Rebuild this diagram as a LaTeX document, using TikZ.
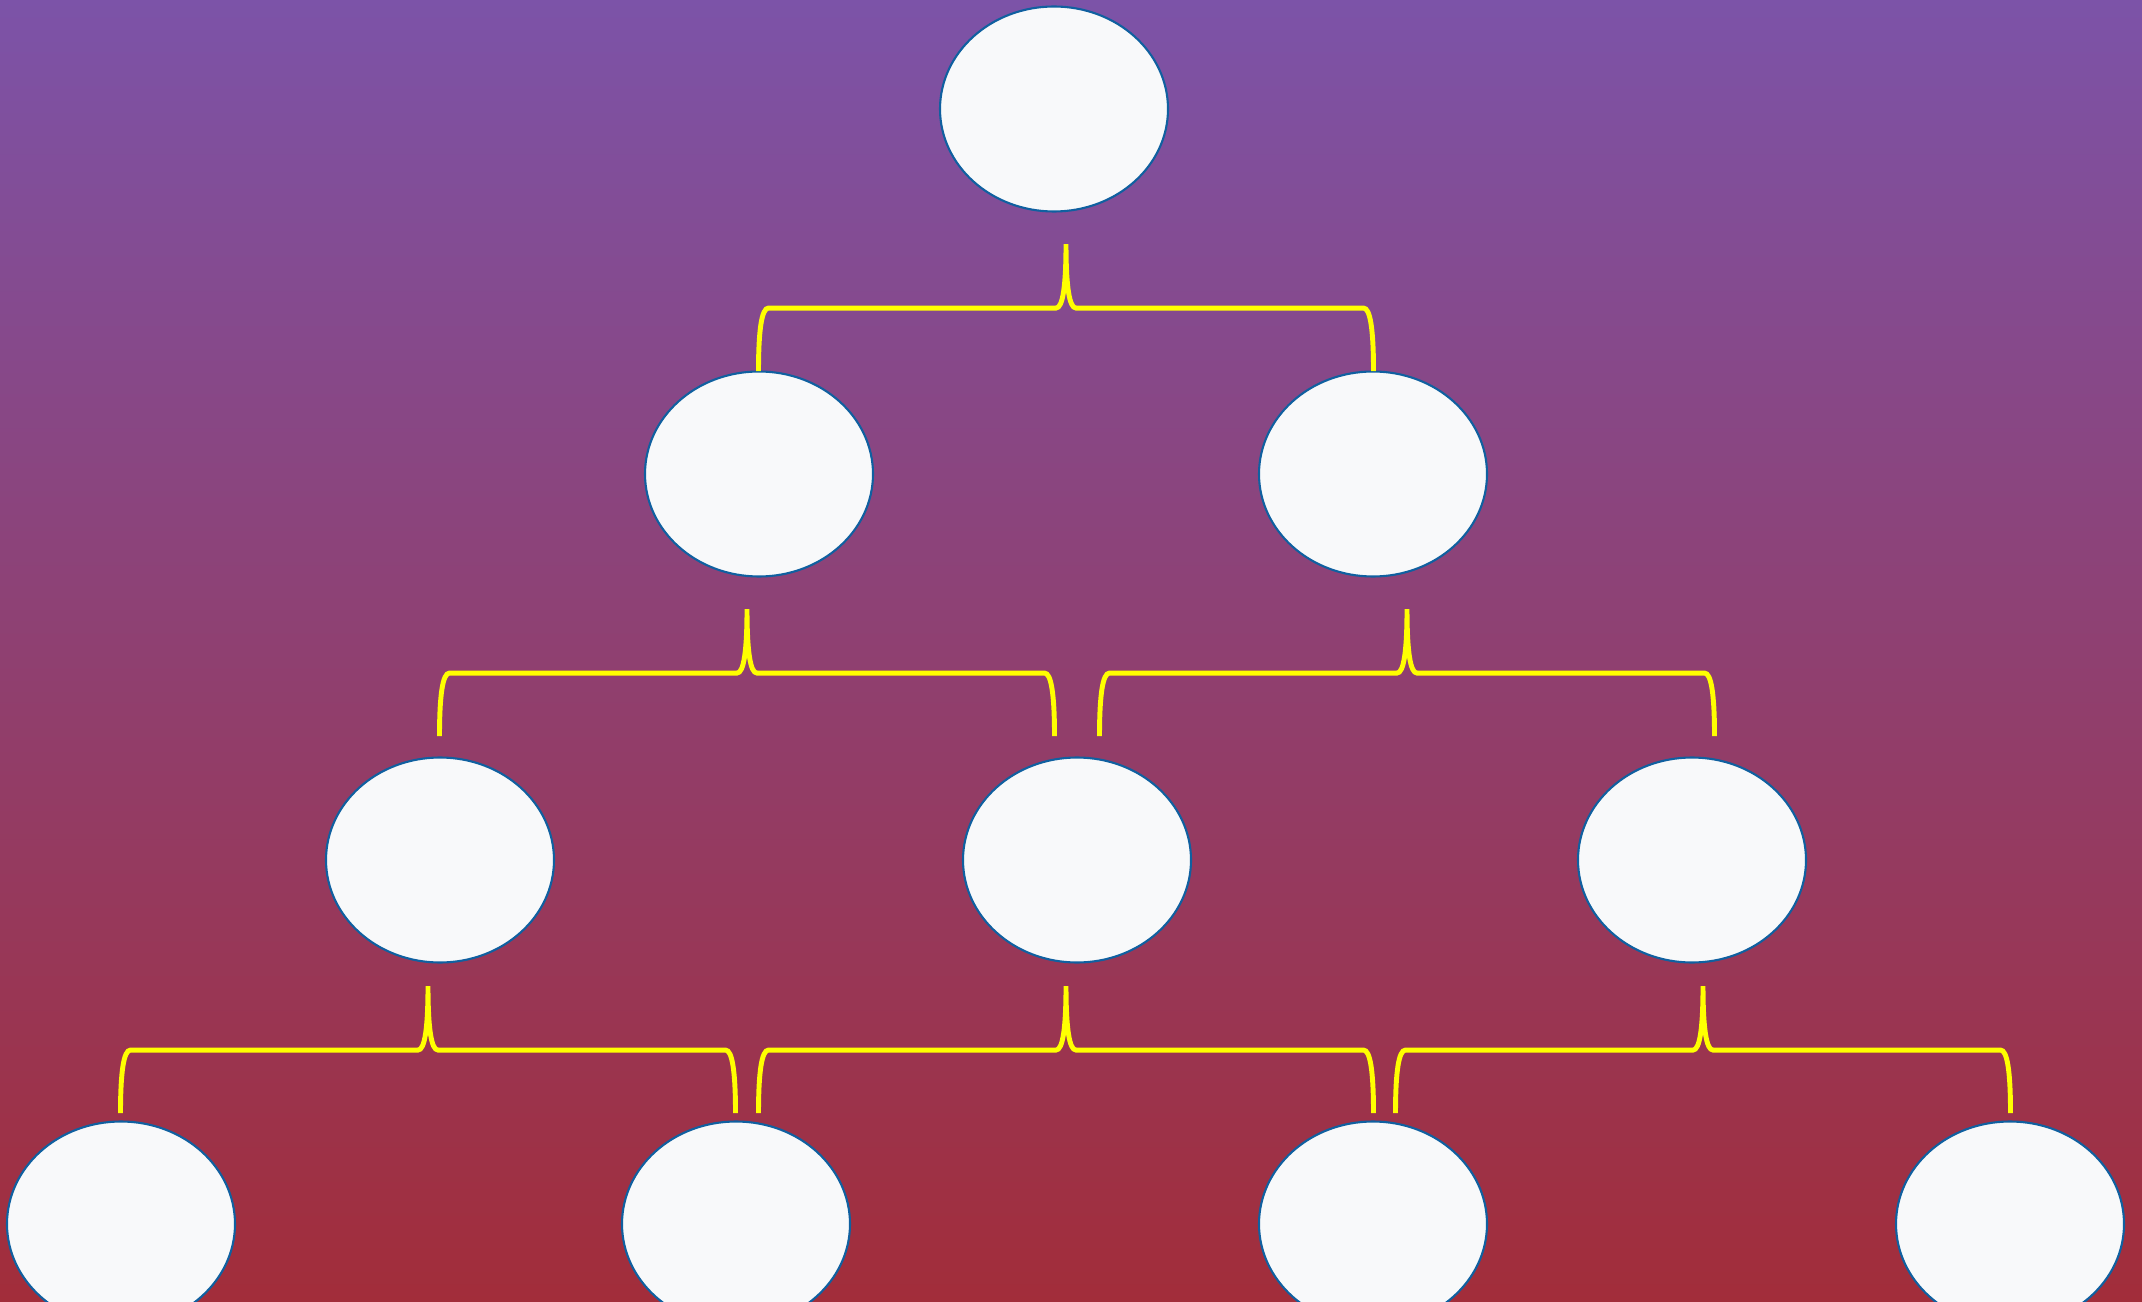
\documentclass[tikz,border=0pt]{standalone}
\usepackage{xcolor}
\usepackage{tikz}
\usetikzlibrary{shapes.geometric,calc}
\definecolor{bgtop}{HTML}{7C53A8}
\definecolor{bgbottom}{HTML}{A22D3A}
\definecolor{nodefill}{HTML}{F8F9FA}
\definecolor{nodeline}{HTML}{1060A0}
\definecolor{forkyellow}{HTML}{FFFF00}
\tikzset{
  treenode/.style={ellipse, draw=nodeline, fill=nodefill, line width=0.6pt,
    minimum width=2.28cm, minimum height=2.05cm, inner sep=0pt},
  forkline/.style={draw=forkyellow, line width=1.4pt},
}
% brace hanging from the tip coordinate #1
\newcommand{\forkbrace}[1]{%
  \draw[forkline] ($(#1)+(-3.075,-1.27)$)
    .. controls ($(#1)+(-3.075,-0.85)$) and ($(#1)+(-3.042,-0.64)$) .. ($(#1)+(-2.975,-0.64)$)
    -- ($(#1)+(-0.10,-0.64)$)
    .. controls ($(#1)+(-0.033,-0.64)$) and ($(#1)+(0,-0.427)$) .. (#1)
    .. controls ($(#1)+(0,-0.427)$) and ($(#1)+(0.033,-0.64)$) .. ($(#1)+(0.10,-0.64)$)
    -- ($(#1)+(2.975,-0.64)$)
    .. controls ($(#1)+(3.042,-0.64)$) and ($(#1)+(3.075,-0.85)$) .. ($(#1)+(3.075,-1.27)$);
}

\begin{document}
\begin{tikzpicture}[x=1cm,y=1cm]
\useasboundingbox (0,0) rectangle (21.42,13.01);
\clip (0,0) rectangle (21.42,13.01);
\shade[top color=bgtop, bottom color=bgbottom] (0,0) rectangle (21.42,13.01);
% nodes
\node[treenode] (n1)  at (10.54,11.92) {};
\node[treenode] (n2a) at (7.59,8.27)   {};
\node[treenode] (n2b) at (13.73,8.27)  {};
\node[treenode] (n3a) at (4.40,4.41)   {};
\node[treenode] (n3b) at (10.77,4.41)  {};
\node[treenode] (n3c) at (16.92,4.41)  {};
\node[treenode] (n4a) at (1.21,0.77)   {};
\node[treenode] (n4b) at (7.36,0.77)   {};
\node[treenode] (n4c) at (13.73,0.77)  {};
\node[treenode] (n4d) at (20.10,0.77)  {};
% braces
\coordinate (f1)  at ($(n1.south)+(0.12,-0.315)$);
\coordinate (f2a) at ($(n2a.south)+(-0.12,-0.315)$);
\coordinate (f2b) at ($(n2b.south)+(0.34,-0.315)$);
\coordinate (f3a) at ($(n3a.south)+(-0.12,-0.225)$);
\coordinate (f3b) at ($(n3b.south)+(-0.11,-0.225)$);
\coordinate (f3c) at ($(n3c.south)+(0.11,-0.225)$);
\forkbrace{f1}
\forkbrace{f2a}
\forkbrace{f2b}
\forkbrace{f3a}
\forkbrace{f3b}
\forkbrace{f3c}
\end{tikzpicture}
\end{document}
